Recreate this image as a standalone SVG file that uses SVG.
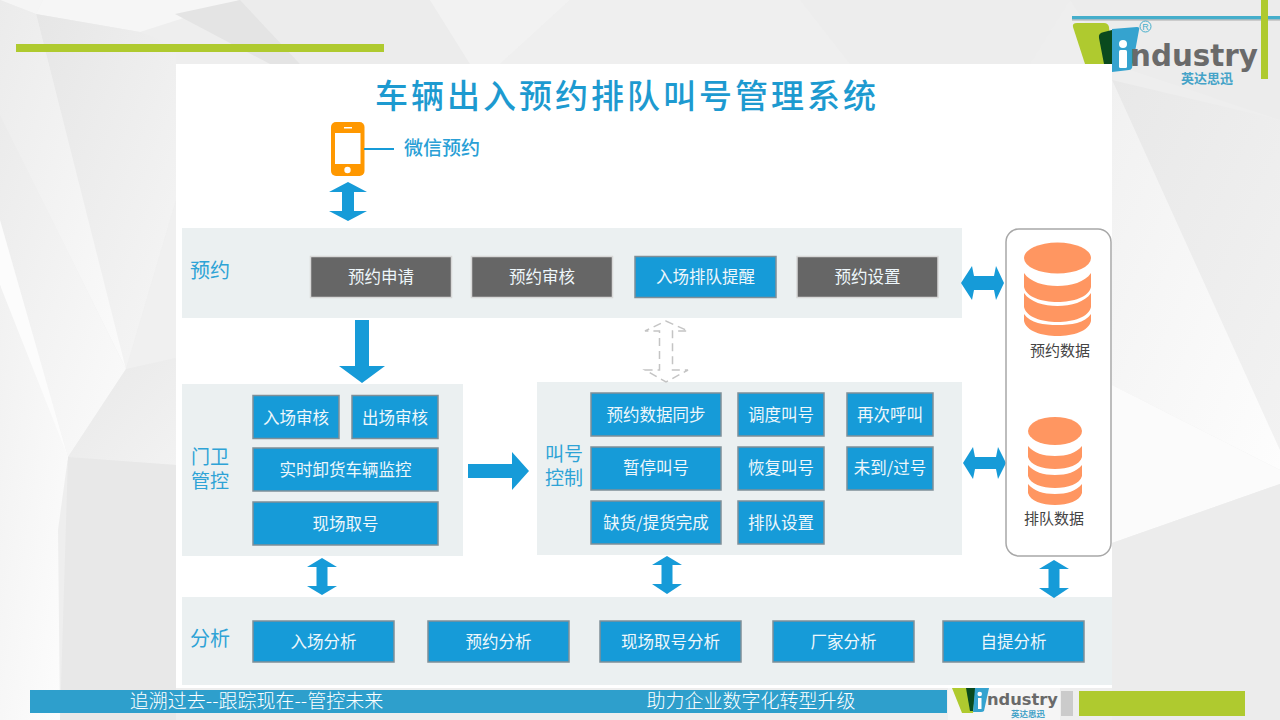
<svg xmlns="http://www.w3.org/2000/svg" width="1280" height="720" viewBox="0 0 1280 720">
<defs>
<style>
text{font-family:"Noto Sans CJK SC","Liberation Sans",sans-serif;text-anchor:middle}
.panel{fill:#ebf0f1}
.blue rect{fill:#169bd8;stroke:#7f8f98;stroke-width:1.5}
.grey rect{fill:#666;stroke:#d8d8d8;stroke-width:1.5}
.blue text,.grey text{fill:#eef7fb;font-size:16.500px}
.side{fill:#2ea3d6;font-size:20px}
.blue text.side2{fill:#2ea3d6;font-size:19px}
.arrow{fill:#169bd8}
.db{fill:#ff9661}
.dbl{fill:#444;font-size:15px}
.foot{fill:#fff;font-size:19px;font-weight:300}
.wm{font-family:"DejaVu Sans",sans-serif;font-weight:700;fill:#6a6a6a}
.cn{font-weight:700;fill:#45a3c8}
</style>
<linearGradient id="g1" x1="0" y1="0" x2="1" y2="1"><stop offset="0" stop-color="#e6e6e6"/><stop offset="1" stop-color="#f6f6f6"/></linearGradient>
<linearGradient id="g2" x1="0" y1="0" x2="1" y2="1"><stop offset="0" stop-color="#ebebeb"/><stop offset="1" stop-color="#fbfbfb"/></linearGradient>
<linearGradient id="g3" x1="0" y1="0" x2="1" y2="1"><stop offset="0" stop-color="#f1f1f1"/><stop offset="1" stop-color="#fdfdfd"/></linearGradient>
<linearGradient id="g4" x1="0" y1="0" x2="1" y2="1"><stop offset="0" stop-color="#e8e8e8"/><stop offset="1" stop-color="#f2f2f2"/></linearGradient>
</defs>
<g id="background">
<rect width="1280" height="720" fill="#eeeeee"/>
<polygon points="0,0 43,0 36,14" fill="#f5f5f5"/>
<polygon points="43,0 240,0 140,32 36,14" fill="#f6f6f6"/>
<polygon points="36,14 140,32 176,45 176,200 126,369" fill="url(#g1)"/>
<polygon points="0,0 36,14 126,369 0,115" fill="url(#g2)"/>
<polygon points="0,115 126,369 68,457 0,220" fill="url(#g2)"/>
<polygon points="0,220 68,457 60,495 55,520 0,285" fill="#fcfcfc"/>
<polygon points="0,285 68,457 58,530 60,720 0,720" fill="url(#g3)"/>
<polygon points="176,200 176,358 126,369" fill="#f0f0f0"/>
<polygon points="126,369 176,358 176,465 68,457" fill="url(#g4)"/>
<polygon points="68,457 176,465 176,720 60,720" fill="#e8e8e8"/>
<polygon points="240,0 430,0 470,64 300,64" fill="#ececec"/>
<polygon points="175,14 240,0 300,64 270,64" fill="#e4e4e4"/>
<polygon points="430,0 570,0 500,64 470,64" fill="#f2f2f2"/>
<polygon points="570,0 800,0 850,64 500,64" fill="#efefef"/>
<polygon points="800,0 1070,0 1030,64 850,64" fill="#ededed"/>
<polygon points="1070,0 1280,0 1280,120 1112,64" fill="#ececec"/>
<polygon points="1112,80 1280,120 1280,450" fill="url(#g4)"/>
<polygon points="1112,80 1280,450 1280,470 1112,385" fill="url(#g3)"/>
<polygon points="1112,385 1280,470 1280,484 1112,543" fill="#fbfbfb"/>
<polygon points="1112,543 1280,484 1280,720 1112,720" fill="#ececec"/>
</g>
<rect id="topbar" x="16" y="44" width="368" height="8" fill="#afca2f"/>
<g id="sheet">
<rect x="176" y="64" width="936" height="624" fill="#fff"/>
</g>
<g id="title"><text x="627" y="108" font-size="33" font-weight="500" fill="#1d9ad0" letter-spacing="3">车辆出入预约排队叫号管理系统</text></g>
<g id="panels">
<rect class="panel" x="182" y="228" width="780" height="90"/>
<rect class="panel" x="182" y="384" width="281" height="172"/>
<rect class="panel" x="537" y="382" width="425" height="173"/>
<rect class="panel" x="182" y="597" width="930" height="88"/>
</g>
<g id="wechat">
<rect x="331" y="122" width="33.500" height="54" rx="5" fill="#ff9800"/>
<rect x="335" y="133" width="25.500" height="31" fill="#fff"/>
<rect x="344" y="127" width="8" height="1.500" fill="#fff"/>
<circle cx="347.500" cy="170" r="3.200" fill="#fff"/>
<rect x="364" y="148" width="30" height="2" fill="#169bd8"/>
<text x="442" y="155" font-size="19" font-weight="500" fill="#2a9fd6">微信预约</text>
</g>
<g id="connectors">
<polygon class="arrow" points="348,182 367,192 354,192 354,211 367,211 348,221 329,211 342,211 342,192 329,192"/>
<polygon class="arrow" points="355,320 369,320 369,366 385,366 362,383 339,366 355,366"/>
<polygon class="arrow" points="468,464 512,464 512,452 529,471 512,490 512,478 468,478"/>
<polygon points="666,321 688,331 672.500,331 672.500,370 688,370 666,382 645,370 659.500,370 659.500,331 645,331" fill="none" stroke="#c4c4c4" stroke-width="1.500" stroke-dasharray="8 5"/>
<polygon class="arrow" points="961,283 972,266 974,276 994,276 996,266 1004,283 996,300 994,290 974,290 972,300"/>
<polygon class="arrow" points="963,463 973,447 975,457 996,457 998,447 1006,463 998,479 996,469 975,469 973,479"/>
<polygon class="arrow" points="322,558 337,567 327.500,567 327.500,586 337,586 322,595 307,586 316.500,586 316.500,567 307,567"/>
<polygon class="arrow" points="667,556 682,565 672.500,565 672.500,584 682,584 667,594 652,584 661.500,584 661.500,565 652,565"/>
<polygon class="arrow" points="1054,560 1069,569 1059.500,569 1059.500,588 1069,588 1054,598 1039,588 1048.500,588 1048.500,569 1039,569"/>
</g>
<g id="yuyue">
<text class="side" x="210" y="278">预约</text>
<g class="grey">
<g id="n1"><rect x="310.500" y="256.500" width="141" height="41"/><text x="381" y="283">预约申请</text></g>
<g id="n2"><rect x="471.500" y="256.500" width="141" height="41"/><text x="542" y="283">预约审核</text></g>
<g id="n4"><rect x="797" y="256.500" width="141" height="41"/><text x="867.500" y="283">预约设置</text></g>
</g>
<g class="blue" id="n3"><rect x="635" y="256.500" width="141" height="41"/><text x="705.500" y="283">入场排队提醒</text></g>
</g>
<g id="menwei" class="blue">
<text class="side2" x="210" y="464">门卫</text>
<text class="side2" x="210" y="488">管控</text>
<g id="m1"><rect x="253" y="395.500" width="86" height="43"/><text x="296" y="424">入场审核</text></g>
<g id="m2"><rect x="352" y="395.500" width="86" height="43"/><text x="395" y="424">出场审核</text></g>
<g id="m3"><rect x="253" y="448" width="185" height="43"/><text x="345.500" y="476">实时卸货车辆监控</text></g>
<g id="m4"><rect x="253" y="502" width="185" height="43"/><text x="345.500" y="530">现场取号</text></g>
</g>
<g id="jiaohao" class="blue">
<text class="side2" x="564" y="461">叫号</text>
<text class="side2" x="564" y="485">控制</text>
<g id="j1"><rect x="591" y="393" width="130" height="43"/><text x="656" y="421">预约数据同步</text></g>
<g id="j2"><rect x="738" y="393" width="86" height="43"/><text x="781" y="421">调度叫号</text></g>
<g id="j3"><rect x="847" y="393" width="86" height="43"/><text x="890" y="421">再次呼叫</text></g>
<g id="j4"><rect x="591" y="447" width="130" height="43"/><text x="656" y="474">暂停叫号</text></g>
<g id="j5"><rect x="738" y="447" width="86" height="43"/><text x="781" y="474">恢复叫号</text></g>
<g id="j6"><rect x="847" y="447" width="86" height="43"/><text x="890" y="474">未到/过号</text></g>
<g id="j7"><rect x="591" y="501" width="130" height="43"/><text x="656" y="529">缺货/提货完成</text></g>
<g id="j8"><rect x="738" y="501" width="86" height="43"/><text x="781" y="529">排队设置</text></g>
</g>
<g id="fenxi" class="blue">
<text x="210" y="646" style="fill:#2ea3d6;font-size:20px">分析</text>
<g id="f1"><rect x="253" y="621" width="141" height="41"/><text x="323.500" y="648">入场分析</text></g>
<g id="f2"><rect x="428" y="621" width="141" height="41"/><text x="498.500" y="648">预约分析</text></g>
<g id="f3"><rect x="600" y="621" width="141" height="41"/><text x="670.500" y="648">现场取号分析</text></g>
<g id="f4"><rect x="773" y="621" width="141" height="41"/><text x="843.500" y="648">厂家分析</text></g>
<g id="f5"><rect x="943" y="621" width="141" height="41"/><text x="1013.500" y="648">自提分析</text></g>
</g>
<g id="data">
<rect x="1006" y="229" width="105" height="327" rx="13" fill="#fff" stroke="#a8a8a8" stroke-width="1.500"/>
<g id="db1">
<ellipse class="db" cx="1057.500" cy="258" rx="33.500" ry="15.500"/>
<path class="db" d="M1024 273c6 9 20 13 33.500 13s27.500-4 33.500-13v14c-2 10-18 15-33.500 15s-31.500-5-33.500-15z"/>
<path class="db" d="M1024 293c6 9 20 13 33.500 13s27.500-4 33.500-13v14c-2 10-18 15-33.500 15s-31.500-5-33.500-15z"/>
<path class="db" d="M1024 314c6 9 20 11 33.500 11s27.500-2 33.500-11v7c-2 10-18 15-33.500 15s-31.500-5-33.500-15z"/>
<text class="dbl" x="1060" y="356">预约数据</text>
</g>
<g id="db2">
<ellipse class="db" cx="1055" cy="431" rx="27" ry="14"/>
<path class="db" d="M1028 446c6 7 15 10 27 10s21-3 27-10v11c-2 8-14 12-27 12s-25-4-27-12z"/>
<path class="db" d="M1028 465c6 7 15 10 27 10s21-3 27-10v11c-2 8-14 12-27 12s-25-4-27-12z"/>
<path class="db" d="M1028 484c6 7 15 10 27 10s21-3 27-10v9c-2 8-14 12-27 12s-25-4-27-12z"/>
<text class="dbl" x="1054" y="524">排队数据</text>
</g>
</g>
<g id="logo">
<rect x="1072" y="16" width="208" height="3.500" fill="#45aecb"/>
<rect x="1072" y="19.500" width="208" height="1" fill="#aaa"/>
<rect x="1261" y="0" width="7" height="79" fill="#afca2f"/>
<path d="M1073 27q-1-4 4-4l27 0q4 0 5 4l3 37h-27z" fill="#afca2f"/>
<path d="M1099 38q-1-5 5-6l8-2v34h-8z" fill="#0a4a1e"/>
<path d="M1112 29l25-2q3 0 2 3l-7 38q-1 2-3 2l-17 2z" fill="#35a3cf"/>
<rect x="1119" y="50" width="8" height="18" rx="1.500" fill="#fff"/>
<circle cx="1123" cy="44" r="4" fill="#fff"/>
<circle cx="1145.500" cy="26.500" r="5.500" fill="none" stroke="#45aecb" stroke-width="1"/>
<text x="1145.500" y="30" font-size="9" style="font-family:'Liberation Sans',sans-serif" fill="#45aecb">R</text>
<text class="wm" x="1194" y="66" font-size="30" textLength="128" lengthAdjust="spacingAndGlyphs">ndustry</text>
<text class="cn" x="1207" y="83" font-size="13">英达思迅</text>
</g>
<g id="footer">
<rect x="30" y="690" width="917" height="23" fill="#2e9fcc"/>
<text class="foot" x="256.500" y="708">追溯过去--跟踪现在--管控未来</text>
<text class="foot" x="751" y="708">助力企业数字化转型升级</text>
<rect x="948" y="688" width="112" height="32" fill="#f5f5f5"/>
<path d="M952 688h25l-4 25h-11z" fill="#afca2f"/>
<path d="M966 688h10l-3 23h-3z" fill="#0a4a1e"/>
<path d="M975 688h14l-5 23q-1 1-3 1h-8z" fill="#35a3cf"/>
<rect x="978" y="698" width="3.500" height="11" fill="#fff"/>
<circle cx="979.700" cy="694" r="2.300" fill="#fff"/>
<text class="wm" x="1022.500" y="705" font-size="16" textLength="71" lengthAdjust="spacingAndGlyphs">ndustry</text>
<text class="cn" x="1028" y="717" font-size="8.500">英达思迅</text>
<rect x="1061" y="691" width="12" height="25" fill="#cbcbcb"/>
<rect x="1079" y="691" width="166" height="25" fill="#afca2f"/>
</g>
</svg>
